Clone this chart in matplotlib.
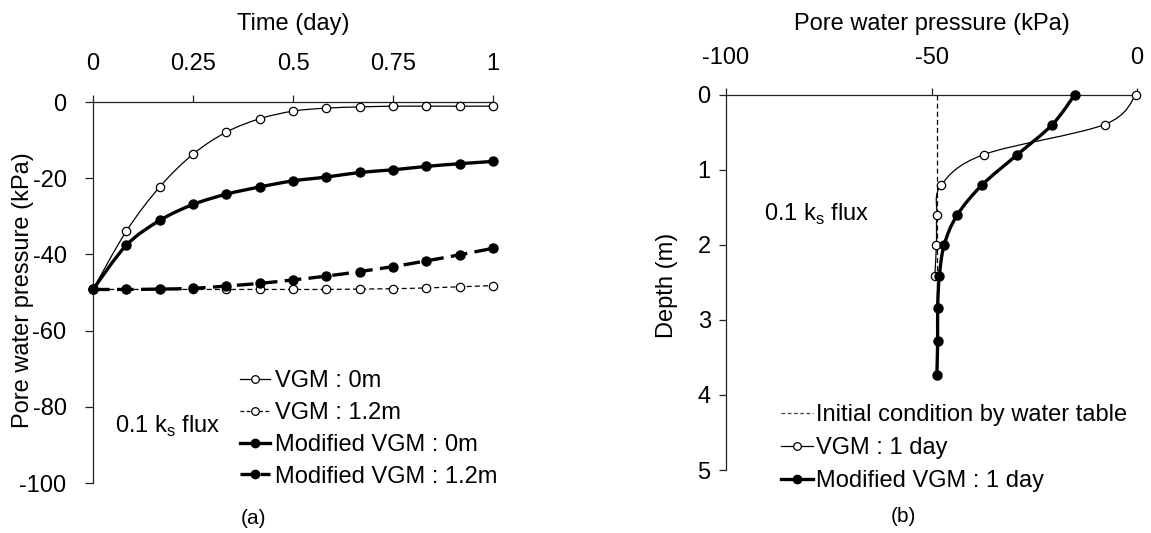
import numpy as np
import matplotlib
matplotlib.use('Agg')
import matplotlib.pyplot as plt
from matplotlib.path import Path
from matplotlib.patches import PathPatch

plt.rc('font', **{'size': 17, 'family': 'sans-serif', 'sans-serif': ['Liberation Sans', 'DejaVu Sans']})
plt.rcParams['axes.unicode_minus'] = False

# (a) pore water pressure vs time
time_day = [0, 1/12, 2/12, 3/12, 4/12, 5/12, 6/12, 7/12, 8/12, 9/12, 10/12, 11/12, 1]
vgm_0m = [-49.2, -33.9, -22.3, -13.7, -7.9, -4.4, -2.4, -1.6, -1.3, -1.1, -1.1, -1.1, -1.1]
vgm_12m = [-49.2, -49.2, -49.2, -49.2, -49.2, -49.2, -49.2, -49.2, -49.1, -49.0, -48.8, -48.5, -48.2]
mod_0m = [-49.2, -37.6, -31.1, -26.9, -24.2, -22.3, -20.7, -19.7, -18.5, -17.8, -16.9, -16.2, -15.6]
mod_12m = [-49.2, -49.2, -49.1, -48.9, -48.3, -47.6, -46.7, -45.7, -44.5, -43.2, -41.7, -40.1, -38.4]
time_ticks = [0, 0.25, 0.5, 0.75, 1]
time_labels = ['0', '0.25', '0.5', '0.75', '1']
pwp_ticks = [0, -20, -40, -60, -80, -100]

# (b) pore water pressure profile after 1 day
depth_vgm = [0, 0.40, 0.80, 1.21, 1.61, 2.0, 2.42]
pwp_vgm = [-0.2, -7.9, -37.3, -47.7, -48.7, -48.8, -49.2]
depth_mod = [0, 0.40, 0.80, 1.21, 1.61, 2.0, 2.42, 2.84, 3.28, 3.73]
pwp_mod = [-15.1, -20.6, -29.1, -37.8, -43.8, -46.9, -48.1, -48.5, -48.5, -48.7]
depth_init = [0, 3.73]
pwp_init = [-48.7, -48.7]
pwp_ticks_b = [-100, -50, 0]
depth_ticks = [0, 1, 2, 3, 4, 5]

W, H = 1151, 533


def smooth_line(ax, x, y, **kw):
    # Excel-like smoothed line: Catmull-Rom segments as cubic Beziers
    p = np.column_stack([x, y]).astype(float)
    ext = np.vstack([p[0], p, p[-1]])
    verts = [p[0]]
    codes = [Path.MOVETO]
    for i in range(1, len(ext) - 2):
        c1 = ext[i] + (ext[i + 1] - ext[i - 1]) / 6
        c2 = ext[i + 1] - (ext[i + 2] - ext[i]) / 6
        verts += [c1, c2, ext[i + 1]]
        codes += [Path.CURVE4] * 3
    ax.add_patch(PathPatch(Path(verts, codes), fill=False, **kw))


def style_axes(ax, xpad, ypad, ylen):
    for s in ['bottom', 'right']:
        ax.spines[s].set_visible(False)
    for s in ['top', 'left']:
        ax.spines[s].set_linewidth(0.9)
        ax.spines[s].set_color('#222222')
    ax.xaxis.tick_top()
    ax.xaxis.set_label_position('top')
    ax.tick_params(axis='x', direction='out', length=5, width=0.9, pad=xpad, color='#222222')
    ax.tick_params(axis='y', direction='out', length=ylen, width=0.9, pad=ypad, color='#222222')


def fig_xy(x, y):
    return x / W, 1 - y / H


fig = plt.figure(figsize=(W / 100, H / 100), dpi=100)

# ---------- (a) ----------
L, R, T, B = 93, 493, 102, 483
ax1 = fig.add_axes([L / W, 1 - B / H, (R - L) / W, (B - T) / H])
style_axes(ax1, xpad=14.5, ypad=13, ylen=6)
ax1.set_xlim(0, 1)
ax1.set_ylim(-100, 0)
ax1.set_xticks(time_ticks)
ax1.set_xticklabels(time_labels)
ax1.set_yticks(pwp_ticks)
ax1.set_xlabel('Time (day)', labelpad=16.5)
ax1.set_ylabel('Pore water pressure (kPa)')
ax1.yaxis.set_label_coords((34 - L) / (R - L), (B - 290) / (B - T))

smooth_line(ax1, time_day, vgm_12m, lw=0.9, ls=(0, (4, 2.5)), edgecolor='k', clip_on=False)
smooth_line(ax1, time_day, mod_12m, lw=2.4, ls=(0, (5, 2.2)), edgecolor='k', clip_on=False)
smooth_line(ax1, time_day, vgm_0m, lw=0.9, edgecolor='k', clip_on=False)
smooth_line(ax1, time_day, mod_0m, lw=2.4, edgecolor='k', clip_on=False)
ax1.plot(time_day, vgm_12m, 'o', ms=6, mfc='white', mec='k', mew=0.9, clip_on=False, zorder=3)
ax1.plot(time_day, mod_12m, 'o', ms=6.5, mfc='k', mec='k', clip_on=False, zorder=4)
ax1.plot(time_day, vgm_0m, 'o', ms=6, mfc='white', mec='k', mew=0.9, clip_on=False, zorder=3)
ax1.plot(time_day, mod_0m, 'o', ms=6.5, mfc='k', mec='k', clip_on=False, zorder=4)

h1 = ax1.plot([], [], '-o', color='k', lw=0.9, ms=5.5, mfc='white', mew=0.9, label='VGM : 0m')[0]
h2 = ax1.plot([], [], 'o', color='k', ls=(0, (3, 2)), lw=0.9, ms=5.5, mfc='white', mew=0.9, label='VGM : 1.2m')[0]
h3 = ax1.plot([], [], '-o', color='k', lw=2.4, ms=6, label='Modified VGM : 0m')[0]
h4 = ax1.plot([], [], 'o', color='k', ls=(0, (4, 2)), lw=2.4, ms=6, label='Modified VGM : 1.2m')[0]
ax1.legend(handles=[h1, h2, h3, h4], loc='upper left', bbox_to_anchor=fig_xy(240, 370),
           bbox_transform=fig.transFigure, frameon=False, handlelength=1.27,
           handletextpad=0.21, numpoints=1, labelspacing=0.42, borderaxespad=0, borderpad=0)
fig.text(*fig_xy(115, 426), r'0.1 k$_\mathregular{s}$ flux', va='center', ha='left')
fig.text(*fig_xy(253, 519), '(a)', ha='center', va='center', fontsize=15)

# ---------- (b) ----------
L, R, T, B = 726, 1137, 94.5, 470
ax2 = fig.add_axes([L / W, 1 - B / H, (R - L) / W, (B - T) / H])
style_axes(ax2, xpad=13.5, ypad=6, ylen=5)
ax2.set_xlim(-100, 0)
ax2.set_ylim(5, 0)
ax2.set_xticks(pwp_ticks_b)
ax2.set_yticks(depth_ticks)
ax2.set_xlabel('Pore water pressure (kPa)', labelpad=12)
ax2.set_ylabel('Depth (m)')
ax2.yaxis.set_label_coords((678 - L) / (R - L), (B - 285) / (B - T))

ax2.plot(pwp_init, depth_init, color='k', lw=0.9, ls=(0, (4, 2.5)), clip_on=False)
smooth_line(ax2, pwp_vgm, depth_vgm, lw=0.9, edgecolor='k', clip_on=False)
smooth_line(ax2, pwp_mod, depth_mod, lw=2.4, edgecolor='k', clip_on=False)
ax2.plot(pwp_vgm, depth_vgm, 'o', ms=6, mfc='white', mec='k', mew=0.9, clip_on=False, zorder=3)
ax2.plot(pwp_mod, depth_mod, 'o', ms=6.5, mfc='k', mec='k', clip_on=False, zorder=4)

g1 = ax2.plot([], [], color='#444444', ls=(0, (3, 2)), lw=0.9, label='Initial condition by water table')[0]
g2 = ax2.plot([], [], '-o', color='k', lw=0.9, ms=5.5, mfc='white', mew=0.9, label='VGM : 1 day')[0]
g3 = ax2.plot([], [], '-o', color='k', lw=2.4, ms=6, label='Modified VGM : 1 day')[0]
ax2.legend(handles=[g1, g2, g3], loc='upper left', bbox_to_anchor=fig_xy(781, 404),
           bbox_transform=fig.transFigure, frameon=False, handlelength=1.35,
           handletextpad=0.13, numpoints=1, labelspacing=0.47, borderaxespad=0, borderpad=0)
fig.text(*fig_xy(764, 214), r'0.1 k$_\mathregular{s}$ flux', va='center', ha='left')
fig.text(*fig_xy(903, 517), '(b)', ha='center', va='center', fontsize=15)

fig.savefig('out.png', dpi=100)
